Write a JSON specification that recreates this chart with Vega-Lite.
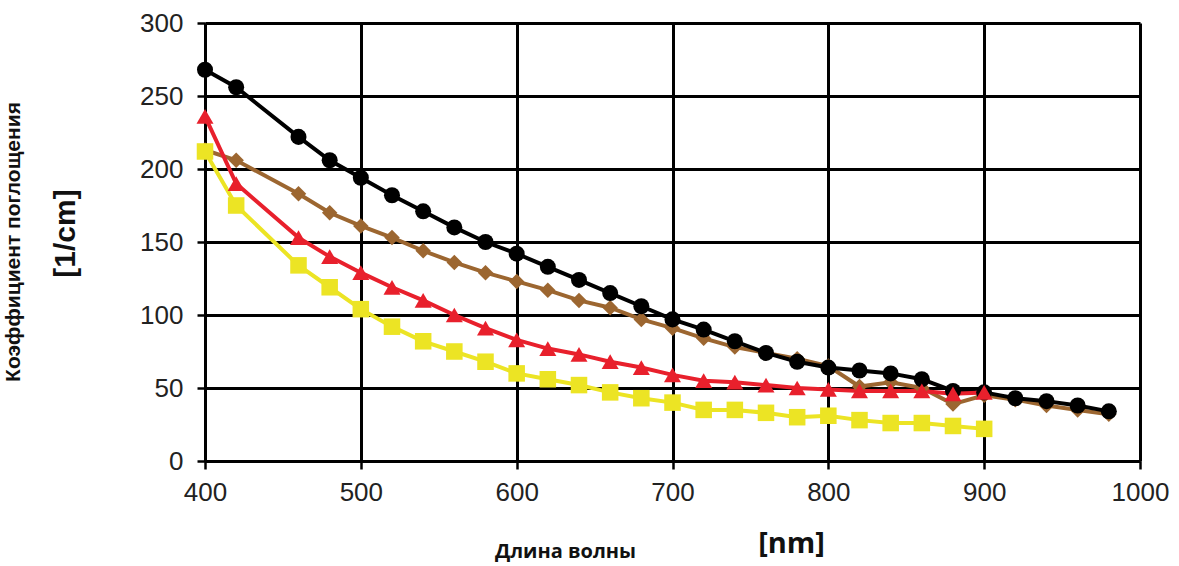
{
  "$schema": "https://vega.github.io/schema/vega-lite/v6.json",
  "width": 935,
  "height": 438,
  "autosize": {"type": "none"},
  "padding": {"left": 205, "top": 23, "right": 39, "bottom": 105},
  "background": "white",
  "title": {
    "text": "Коэффициент поглощения",
    "orient": "left",
    "anchor": "middle",
    "font": "Liberation Sans",
    "fontSize": 21,
    "fontWeight": "bold",
    "color": "#111",
    "offset": 26
  },
  "data": {
    "values": [
      {"wl": 400, "v": 213, "s": "S2"}, {"wl": 420, "v": 206, "s": "S2"}, {"wl": 460, "v": 183, "s": "S2"}, {"wl": 480, "v": 170, "s": "S2"}, {"wl": 500, "v": 161, "s": "S2"}, {"wl": 520, "v": 153, "s": "S2"}, {"wl": 540, "v": 144, "s": "S2"}, {"wl": 560, "v": 136, "s": "S2"}, {"wl": 580, "v": 129, "s": "S2"}, {"wl": 600, "v": 123, "s": "S2"}, {"wl": 620, "v": 117, "s": "S2"}, {"wl": 640, "v": 110, "s": "S2"}, {"wl": 660, "v": 105, "s": "S2"}, {"wl": 680, "v": 97, "s": "S2"}, {"wl": 700, "v": 91, "s": "S2"}, {"wl": 720, "v": 84, "s": "S2"}, {"wl": 740, "v": 78, "s": "S2"}, {"wl": 760, "v": 74, "s": "S2"}, {"wl": 780, "v": 70, "s": "S2"}, {"wl": 800, "v": 65, "s": "S2"}, {"wl": 820, "v": 51, "s": "S2"}, {"wl": 840, "v": 54, "s": "S2"}, {"wl": 860, "v": 50, "s": "S2"}, {"wl": 880, "v": 39, "s": "S2"}, {"wl": 900, "v": 45, "s": "S2"}, {"wl": 920, "v": 42, "s": "S2"}, {"wl": 940, "v": 38, "s": "S2"}, {"wl": 960, "v": 35, "s": "S2"}, {"wl": 980, "v": 32, "s": "S2"},
      {"wl": 400, "v": 268, "s": "S3"}, {"wl": 420, "v": 256, "s": "S3"}, {"wl": 460, "v": 222, "s": "S3"}, {"wl": 480, "v": 206, "s": "S3"}, {"wl": 500, "v": 194, "s": "S3"}, {"wl": 520, "v": 182, "s": "S3"}, {"wl": 540, "v": 171, "s": "S3"}, {"wl": 560, "v": 160, "s": "S3"}, {"wl": 580, "v": 150, "s": "S3"}, {"wl": 600, "v": 142, "s": "S3"}, {"wl": 620, "v": 133, "s": "S3"}, {"wl": 640, "v": 124, "s": "S3"}, {"wl": 660, "v": 115, "s": "S3"}, {"wl": 680, "v": 106, "s": "S3"}, {"wl": 700, "v": 97, "s": "S3"}, {"wl": 720, "v": 90, "s": "S3"}, {"wl": 740, "v": 82, "s": "S3"}, {"wl": 760, "v": 74, "s": "S3"}, {"wl": 780, "v": 68, "s": "S3"}, {"wl": 800, "v": 64, "s": "S3"}, {"wl": 820, "v": 62, "s": "S3"}, {"wl": 840, "v": 60, "s": "S3"}, {"wl": 860, "v": 56, "s": "S3"}, {"wl": 880, "v": 48, "s": "S3"}, {"wl": 900, "v": 47, "s": "S3"}, {"wl": 920, "v": 43, "s": "S3"}, {"wl": 940, "v": 41, "s": "S3"}, {"wl": 960, "v": 38, "s": "S3"}, {"wl": 980, "v": 34, "s": "S3"},
      {"wl": 400, "v": 212, "s": "S1"}, {"wl": 420, "v": 175, "s": "S1"}, {"wl": 460, "v": 134, "s": "S1"}, {"wl": 480, "v": 119, "s": "S1"}, {"wl": 500, "v": 104, "s": "S1"}, {"wl": 520, "v": 92, "s": "S1"}, {"wl": 540, "v": 82, "s": "S1"}, {"wl": 560, "v": 75, "s": "S1"}, {"wl": 580, "v": 68, "s": "S1"}, {"wl": 600, "v": 60, "s": "S1"}, {"wl": 620, "v": 56, "s": "S1"}, {"wl": 640, "v": 52, "s": "S1"}, {"wl": 660, "v": 47, "s": "S1"}, {"wl": 680, "v": 43, "s": "S1"}, {"wl": 700, "v": 40, "s": "S1"}, {"wl": 720, "v": 35, "s": "S1"}, {"wl": 740, "v": 35, "s": "S1"}, {"wl": 760, "v": 33, "s": "S1"}, {"wl": 780, "v": 30, "s": "S1"}, {"wl": 800, "v": 31, "s": "S1"}, {"wl": 820, "v": 28, "s": "S1"}, {"wl": 840, "v": 26, "s": "S1"}, {"wl": 860, "v": 26, "s": "S1"}, {"wl": 880, "v": 24, "s": "S1"}, {"wl": 900, "v": 22, "s": "S1"},
      {"wl": 400, "v": 236, "s": "S4"}, {"wl": 420, "v": 190, "s": "S4"}, {"wl": 460, "v": 153, "s": "S4"}, {"wl": 480, "v": 140, "s": "S4"}, {"wl": 500, "v": 129, "s": "S4"}, {"wl": 520, "v": 119, "s": "S4"}, {"wl": 540, "v": 110, "s": "S4"}, {"wl": 560, "v": 100, "s": "S4"}, {"wl": 580, "v": 91, "s": "S4"}, {"wl": 600, "v": 83, "s": "S4"}, {"wl": 620, "v": 77, "s": "S4"}, {"wl": 640, "v": 73, "s": "S4"}, {"wl": 660, "v": 68, "s": "S4"}, {"wl": 680, "v": 64, "s": "S4"}, {"wl": 700, "v": 59, "s": "S4"}, {"wl": 720, "v": 55, "s": "S4"}, {"wl": 740, "v": 54, "s": "S4"}, {"wl": 760, "v": 52, "s": "S4"}, {"wl": 780, "v": 50, "s": "S4"}, {"wl": 800, "v": 49, "s": "S4"}, {"wl": 820, "v": 48, "s": "S4"}, {"wl": 840, "v": 48, "s": "S4"}, {"wl": 860, "v": 48, "s": "S4"}, {"wl": 880, "v": 46, "s": "S4"}, {"wl": 900, "v": 47, "s": "S4"}
    ]
  },
  "encoding": {
    "y": {
      "field": "v", "type": "quantitative",
      "scale": {"domain": [0, 300], "nice": false},
      "axis": {
        "values": [0, 50, 100, 150, 200, 250, 300],
        "title": "[1/cm]",
        "titleFont": "Liberation Sans", "titleFontSize": 30, "titleFontWeight": "bold", "titleColor": "#111",
        "titleX": -125, "titleY": 210, "titleAngle": -90, "titleAlign": "center", "titleBaseline": "bottom",
        "labelFont": "Liberation Sans", "labelFontSize": 26, "labelColor": "#222", "labelPadding": 14,
        "labelFlush": false,
        "tickSize": 8, "tickColor": "black", "tickWidth": 2.5,
        "domainColor": "black", "domainWidth": 3,
        "grid": true, "gridColor": "black", "gridWidth": 3, "gridOpacity": 1
      }
    },
    "color": {
      "field": "s", "type": "nominal", "legend": null,
      "scale": {"domain": ["S2", "S3", "S1", "S4"], "range": ["#9c6630", "#000000", "#ece424", "#e8202c"]}
    }
  },
  "layer": [
    {
      "mark": {"type": "line", "strokeWidth": 4},
      "encoding": {
        "x": {
          "field": "wl", "type": "quantitative",
          "scale": {"domain": [400, 1000], "nice": false},
          "axis": {
            "values": [400, 500, 600, 700, 800, 900, 1000],
            "format": "d",
            "title": "Длина волны",
            "titleFont": "Open Sans", "titleFontSize": 20, "titleFontWeight": "bold", "titleColor": "#111",
            "titleX": 360, "titleY": 96, "titleAlign": "center", "titleBaseline": "alphabetic",
            "labelFont": "Liberation Sans", "labelFontSize": 26, "labelColor": "#222", "labelPadding": 10,
            "labelFlush": false,
            "tickSize": 8, "tickColor": "black", "tickWidth": 2.5,
            "domainColor": "black", "domainWidth": 3,
            "grid": true, "gridColor": "black", "gridWidth": 3, "gridOpacity": 1
          }
        },
        "order": {"field": "s"}
      }
    },
    {
      "mark": {"type": "point", "filled": true, "opacity": 1},
      "encoding": {
        "x": {
          "field": "wl", "type": "quantitative",
          "scale": {"domain": [400, 1000], "nice": false},
          "axis": {
            "orient": "top",
            "title": "[nm]", "labels": false, "ticks": false, "domain": false, "grid": false,
            "titleFont": "Open Sans", "titleFontSize": 29, "titleFontWeight": "bold", "titleColor": "#111",
            "titleX": 586, "titleY": 529, "titleAlign": "center", "titleBaseline": "alphabetic"
          }
        },
        "shape": {
          "field": "s", "type": "nominal", "legend": null,
          "scale": {"domain": ["S2", "S3", "S1", "S4"], "range": ["diamond", "circle", "square", "triangle-up"]}
        },
        "size": {
          "field": "s", "type": "nominal", "legend": null,
          "scale": {"domain": ["S2", "S3", "S1", "S4"], "range": [240, 290, 290, 360]}
        }
      }
    }
  ],
  "resolve": {"axis": {"x": "independent"}},
  "config": {"view": {"stroke": null}}
}
